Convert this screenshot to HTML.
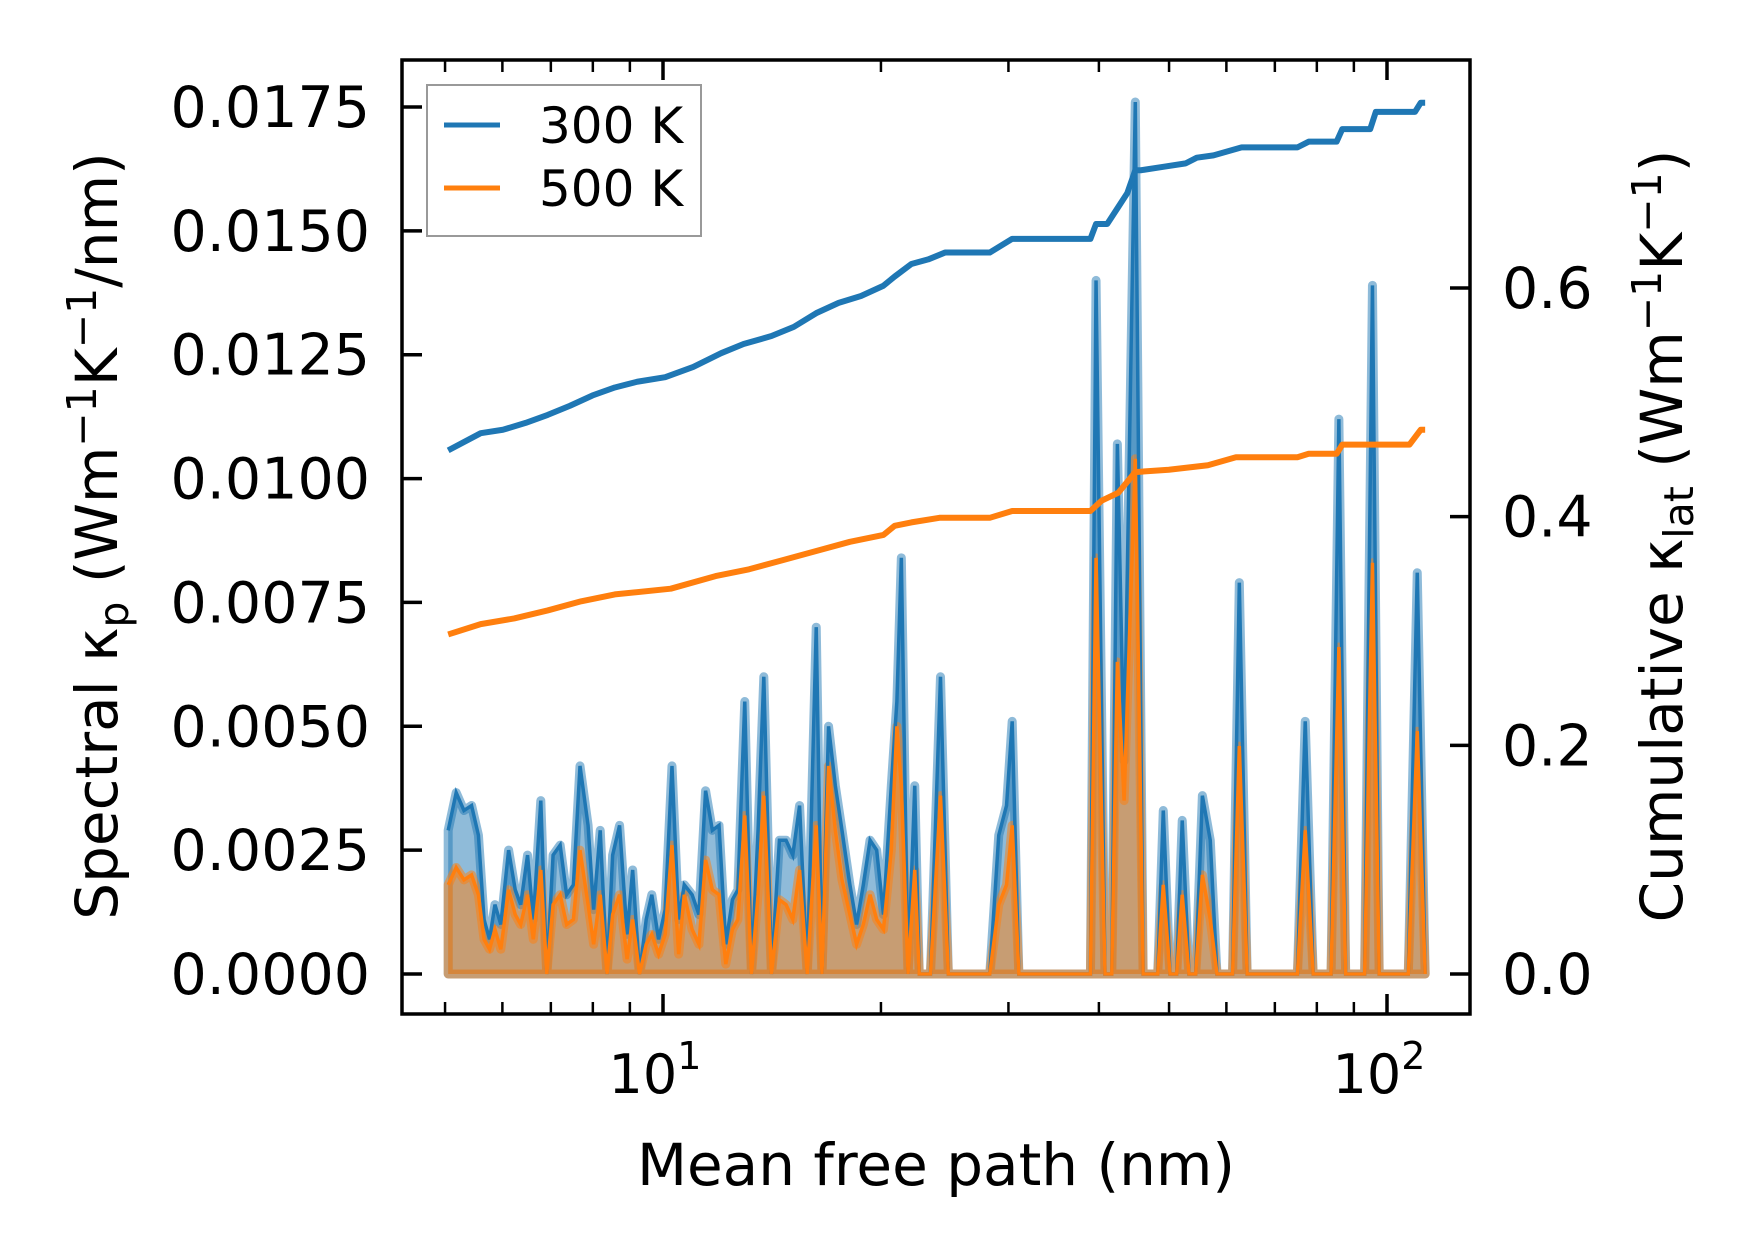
<!DOCTYPE html>
<html><head><meta charset="utf-8"><style>
body{margin:0;background:#fff;}
svg{display:block;font-family:"DejaVu Sans","Liberation Sans",sans-serif;}
</style></head><body>
<svg id="chart" width="1753" height="1254" viewBox="0 0 1753 1254" xmlns="http://www.w3.org/2000/svg">
<rect width="1753" height="1254" fill="#fff"/>
<g id="plot"></g>
<g id="axes"></g>
<g>
<rect x="427" y="85" width="274" height="151" fill="#fff" stroke="#999" stroke-width="2"/>
<line x1="444" y1="125" x2="500" y2="125" stroke="#1f77b4" stroke-width="5"/>
<text x="539" y="143" font-size="50">300 K</text>
<line x1="444" y1="188" x2="500" y2="188" stroke="#ff7f0e" stroke-width="5"/>
<text x="539" y="206" font-size="50">500 K</text>
</g>
<text x="936" y="1185" font-size="58" text-anchor="middle">Mean free path (nm)</text>
<text transform="translate(117,536) rotate(-90)" font-size="58" text-anchor="middle">Spectral κ<tspan font-size="41" dy="11">p</tspan><tspan dy="-11"> (Wm</tspan><tspan font-size="41" dy="-21">−1</tspan><tspan dy="21">K</tspan><tspan font-size="41" dy="-21">−1</tspan><tspan dy="21">/nm)</tspan></text>
<text transform="translate(1682,536) rotate(-90)" font-size="58" text-anchor="middle">Cumulative κ<tspan font-size="41" dy="11">lat</tspan><tspan dy="-11"> (Wm</tspan><tspan font-size="41" dy="-21">−1</tspan><tspan dy="21">K</tspan><tspan font-size="41" dy="-21">−1</tspan><tspan dy="21">)</tspan></text>
</svg>
<script>
const mfp = [5.05,5.18,5.31,5.44,5.56,5.66,5.76,5.86,5.97,6.12,6.25,6.36,6.50,6.62,6.78,6.91,7.05,7.21,7.36,7.52,7.68,7.88,8.02,8.19,8.37,8.52,8.71,8.92,9.08,9.28,9.48,9.65,9.86,10.07,10.29,10.51,10.70,10.97,11.21,11.45,11.70,11.95,12.21,12.47,12.69,12.97,13.25,13.53,13.78,14.12,14.48,14.79,15.11,15.44,15.82,16.28,16.58,16.93,17.30,17.67,18.12,18.51,18.91,19.32,19.73,20.16,20.67,21.04,21.34,21.80,22.27,22.59,22.91,23.41,24.17,24.78,28.27,29.09,29.82,30.36,31.01,38.94,39.64,40.78,41.67,42.42,43.34,44.91,46.04,48.23,49.09,50.15,51.22,52.14,53.27,54.42,55.59,57.00,58.23,61.19,62.52,64.09,75.21,77.10,79.07,83.70,85.81,87.68,93.13,95.48,97.54,107.0,110.1,112.9];
const spec300 = [0.0029,0.00366,0.0033,0.0034,0.0028,0.0011,0.0007,0.0014,0.001,0.0025,0.0017,0.0014,0.0024,0.0011,0.0035,0,0.0024,0.0026,0.0016,0.0018,0.0042,0.003,0.0013,0.0029,0,0.0024,0.003,0.0008,0.0021,0,0.0011,0.0016,0.0007,0.0013,0.0042,0.0011,0.0018,0.0016,0.0012,0.0037,0.0029,0.003,0.0006,0.0015,0.0017,0.0055,0,0.0029,0.006,0,0.0027,0.0027,0.0024,0.0034,0,0.007,0,0.005,0.0038,0.0029,0.0018,0.001,0.0018,0.0027,0.0025,0.0012,0.0038,0.0055,0.0084,0,0.0038,0,0,0,0.006,0,0,0.0028,0.0034,0.0051,0,0,0.014,0,0,0.0107,0.0043,0.0176,0,0,0.0033,0,0,0.0031,0,0,0.0036,0.0027,0,0,0.0079,0,0,0.0051,0,0,0.0112,0,0,0.0139,0,0,0.0081,0];
const spec500 = [0.0018,0.00215,0.0019,0.002,0.0016,0.0007,0.0005,0.0009,0.0005,0.0017,0.0012,0.001,0.0016,0.0007,0.0021,0,0.0014,0.0016,0.001,0.0011,0.0025,0.0014,0.0006,0.0016,0,0.0012,0.0016,0.0003,0.0011,0,0.0006,0.0008,0.0004,0.0008,0.0026,0.0004,0.0016,0.0009,0.0006,0.0023,0.0017,0.0016,0.0002,0.0009,0.0011,0.0032,0,0.0016,0.0036,0,0.0015,0.0014,0.0011,0.0021,0,0.003,0,0.0042,0.0029,0.0019,0.0012,0.0006,0.001,0.0016,0.0011,0.0009,0.0025,0.005,0.0038,0,0.0021,0,0,0,0.0036,0,0,0.0014,0.0018,0.003,0,0,0.0084,0,0,0.0063,0.0035,0.0104,0,0,0.0018,0,0,0.0016,0,0,0.002,0.0011,0,0,0.0046,0,0,0.0029,0,0,0.0066,0,0,0.0083,0,0,0.0049,0];
const cumX300 = [5.05,5.60,6.01,6.46,6.93,7.44,7.99,8.58,9.21,10.07,11.01,12.03,12.92,14.12,15.16,16.28,17.48,18.77,20.16,20.89,22.03,23.24,24.52,28.27,30.36,38.94,39.64,41.07,42.56,43.78,44.91,45.71,49.09,52.71,54.61,57.59,62.97,75.21,77.95,85.20,86.74,94.80,96.50,109.3,111.3,112.9];
const cum300 = [0.458,0.473,0.476,0.482,0.489,0.497,0.506,0.513,0.518,0.522,0.531,0.543,0.551,0.558,0.566,0.578,0.587,0.593,0.602,0.610,0.621,0.625,0.631,0.631,0.643,0.643,0.656,0.656,0.671,0.683,0.703,0.703,0.706,0.709,0.714,0.716,0.723,0.723,0.728,0.728,0.739,0.739,0.754,0.754,0.762,0.762];
const cumX500 = [5.05,5.60,6.23,6.93,7.71,8.58,10.25,11.82,13.15,14.64,16.28,18.12,20.16,20.89,22.03,24.09,28.27,30.36,38.94,40.35,42.56,44.91,49.96,56.57,61.85,75.21,77.95,85.20,86.74,107.4,111.3,112.9];
const cum500 = [0.297,0.306,0.311,0.318,0.326,0.332,0.337,0.348,0.354,0.362,0.370,0.378,0.384,0.392,0.395,0.399,0.399,0.405,0.405,0.414,0.421,0.439,0.441,0.445,0.452,0.452,0.455,0.455,0.463,0.463,0.476,0.476];
const leftTicks = [0,0.0025,0.005,0.0075,0.01,0.0125,0.015,0.0175];
const leftTickLabels = ["0.0000","0.0025","0.0050","0.0075","0.0100","0.0125","0.0150","0.0175"];
const rightTicks = [0,0.2,0.4,0.6];
const rightTickLabels = ["0.0","0.2","0.4","0.6"];
const xMajor = [10,100];
const xMinor = [5,6,7,8,9,20,30,40,50,60,70,80,90];

const L=402,R=1470,T=60,B=1014;
const X = v => 663 + 724*(Math.log10(v)-1);
const Y = v => 974 - v*(867/0.0175);
const Yr = v => 974 - v*(974-288)/0.6;
const NS="http://www.w3.org/2000/svg";
function mk(tag, attrs, parent){const e=document.createElementNS(NS,tag);for(const k in attrs)e.setAttribute(k,attrs[k]);parent.appendChild(e);return e;}
const plot=document.getElementById('plot'), axes=document.getElementById('axes');

function area(xs, ys){let d=`M${X(xs[0])},${Y(0)}`;xs.forEach((x,i)=>d+=` L${X(x)},${Y(ys[i])}`);d+=` L${X(xs[xs.length-1])},${Y(0)} Z`;return d;}
function line(xs, ys, f){return xs.map((x,i)=>(i?'L':'M')+X(x)+','+f(ys[i])).join(' ');}

let e;
e=mk('path',{d:area(mfp,spec300),fill:'rgba(31,119,180,0.5)',stroke:'rgba(31,119,180,0.5)','stroke-width':9,'stroke-linejoin':'round'},plot);


e=mk('path',{d:area(mfp,spec500),fill:'rgba(255,127,14,0.5)',stroke:'rgba(255,127,14,0.5)','stroke-width':9,'stroke-linejoin':'round'},plot);


e=mk('path',{d:line(mfp,spec300,Y),fill:'none',stroke:'#1f77b4','stroke-width':3.5},plot);


e=mk('path',{d:line(mfp,spec500,Y),fill:'none',stroke:'#ff7f0e','stroke-width':3.5},plot);


e=mk('path',{d:line(cumX300,cum300,Yr),fill:'none',stroke:'#1f77b4','stroke-width':6,'stroke-linejoin':'round'},plot);


e=mk('path',{d:line(cumX500,cum500,Yr),fill:'none',stroke:'#ff7f0e','stroke-width':6,'stroke-linejoin':'round'},plot);



e=mk('rect',{x:L,y:T,width:R-L,height:B-T,fill:'none',stroke:'#000','stroke-width':3.5},axes);



leftTicks.forEach((v,i)=>{
  const y=Y(v);
  let t=mk('line',{x1:L,x2:L+20,y1:y,y2:y,stroke:'#000','stroke-width':3.5},axes);
  
  
  let tx=mk('text',{x:370,y:y+20,'font-size':57,'text-anchor':'end'},axes);
  tx.textContent=leftTickLabels[i];
  
  
});
rightTicks.forEach((v,i)=>{
  const y=Yr(v);
  let t=mk('line',{x1:R-20,x2:R,y1:y,y2:y,stroke:'#000','stroke-width':3.5},axes);
  
  
  let tx=mk('text',{x:1502,y:y+20,'font-size':57},axes);
  tx.textContent=rightTickLabels[i];
  
  
});
xMajor.forEach((v,i)=>{
  const x=X(v);
  [[B,B-20],[T,T+20]].forEach(p=>{
    let t=mk('line',{x1:x,x2:x,y1:p[0],y2:p[1],stroke:'#000','stroke-width':3.5},axes);
    
    
  });
  let tx=mk('text',{x:x-8,y:1093,'font-size':54,'text-anchor':'middle'},axes);
  tx.innerHTML='10<tspan font-size="38" dy="-24">'+(i+1)+'</tspan>';
  
  
});
xMinor.forEach(v=>{
  const x=X(v);
  [[B,B-12],[T,T+12]].forEach(p=>{
    let t=mk('line',{x1:x,x2:x,y1:p[0],y2:p[1],stroke:'#000','stroke-width':2.5},axes);
    
    
  });
});
</script>
</body></html>
